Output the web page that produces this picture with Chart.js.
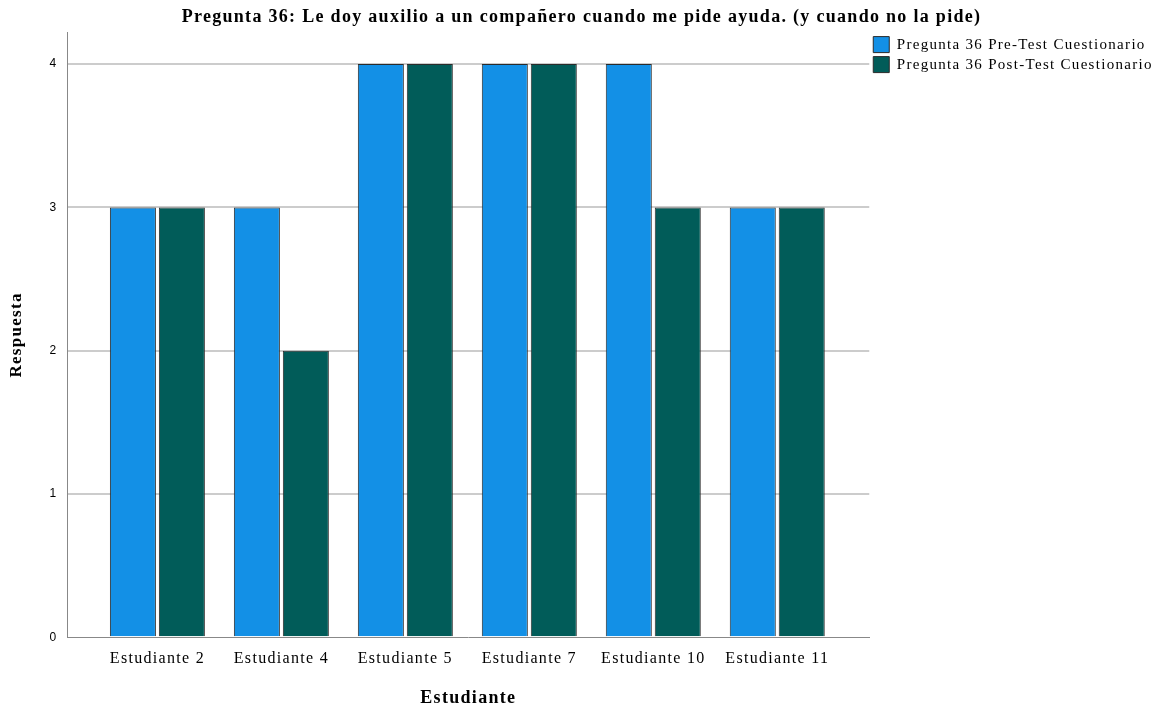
<!DOCTYPE html>
<html>
<head>
<meta charset="utf-8">
<script src="https://cdn.jsdelivr.net/npm/chart.js@4/dist/chart.umd.min.js"></script>
<style>
  body { margin: 0; background: #fff; }
</style>
</head>
<body>
<canvas id="grafico" width="1159" height="709"></canvas>
<script>
const estudiantes = ['Estudiante 2', 'Estudiante 4', 'Estudiante 5', 'Estudiante 7', 'Estudiante 10', 'Estudiante 11'];
const preTest = [3, 3, 4, 4, 4, 3];
const postTest = [3, 2, 4, 4, 3, 3];
const ticksY = [0, 1, 2, 3, 4];

const serif = '"Liberation Serif", "Times New Roman", serif';

// barras sobre escala lineal para dejar el margen a los lados como en el original
function puntos(valores) {
  return valores.map((v, i) => ({ x: i, y: v }));
}

// el texto del original sale un poco mas espaciado
const espaciado = {
  id: 'espaciado',
  beforeUpdate(chart) { chart.ctx.letterSpacing = '1.3px'; },
  beforeDraw(chart) { chart.ctx.letterSpacing = '1.3px'; }
};

const ctx = document.getElementById('grafico').getContext('2d');
const grafico = new Chart(ctx, {
  type: 'bar',
  data: {
    datasets: [
      {
        label: 'Pregunta 36 Pre-Test Cuestionario',
        data: puntos(preTest),
        backgroundColor: '#1390e6',
        borderColor: '#2b2b2b',
        borderWidth: 1,
        categoryPercentage: 0.79,
        barPercentage: 0.94
      },
      {
        label: 'Pregunta 36 Post-Test Cuestionario',
        data: puntos(postTest),
        backgroundColor: '#015c59',
        borderColor: '#2b2b2b',
        borderWidth: 1,
        categoryPercentage: 0.79,
        barPercentage: 0.94
      }
    ]
  },
  plugins: [espaciado],
  options: {
    responsive: false,
    animation: false,
    layout: { padding: { left: 6, right: 2, top: 0, bottom: 0 } },
    plugins: {
      title: {
        display: true,
        text: 'Pregunta 36: Le doy auxilio a un compañero cuando me pide ayuda. (y cuando no la pide)',
        color: '#000',
        font: { family: serif, size: 18, weight: 'bold' },
        padding: { top: 7, bottom: 4 }
      },
      legend: {
        position: 'right',
        align: 'start',
        fullSize: false,
        labels: {
          color: '#000',
          font: { family: serif, size: 15 },
          boxWidth: 16,
          boxHeight: 16,
          padding: 4
        }
      },
      tooltip: { enabled: false }
    },
    scales: {
      x: {
        type: 'linear',
        min: -0.726,
        max: 5.742,
        offset: false,
        grid: { display: false, drawTicks: false },
        border: { display: true, color: '#888888', width: 1 },
        afterBuildTicks: function(scale) {
          scale.ticks = estudiantes.map((e, i) => ({ value: i }));
        },
        ticks: {
          autoSkip: false,
          maxRotation: 0,
          color: '#000',
          padding: 12,
          font: { family: serif, size: 16 },
          callback: function(value) {
            return estudiantes[value];
          }
        },
        title: {
          display: true,
          text: 'Estudiante',
          color: '#000',
          font: { family: serif, size: 18, weight: 'bold' },
          padding: { top: 7, bottom: 0 }
        }
      },
      y: {
        min: 0,
        max: 4.22,
        grid: {
          color: (c) => c.tick && c.tick.value === 0 ? 'rgba(0,0,0,0)' : '#cccccc',
          lineWidth: 2,
          drawTicks: false
        },
        border: { display: true, color: '#888888', width: 1 },
        afterBuildTicks: function(scale) {
          scale.ticks = ticksY.map(v => ({ value: v }));
        },
        ticks: {
          color: '#000',
          padding: 10,
          font: { family: '"Liberation Sans", Arial, sans-serif', size: 12 }
        },
        title: {
          display: true,
          text: 'Respuesta',
          color: '#000',
          font: { family: serif, size: 17, weight: 'bold' },
          padding: { top: 0, bottom: 13 }
        }
      }
    }
  }
});
</script>
</body>
</html>
